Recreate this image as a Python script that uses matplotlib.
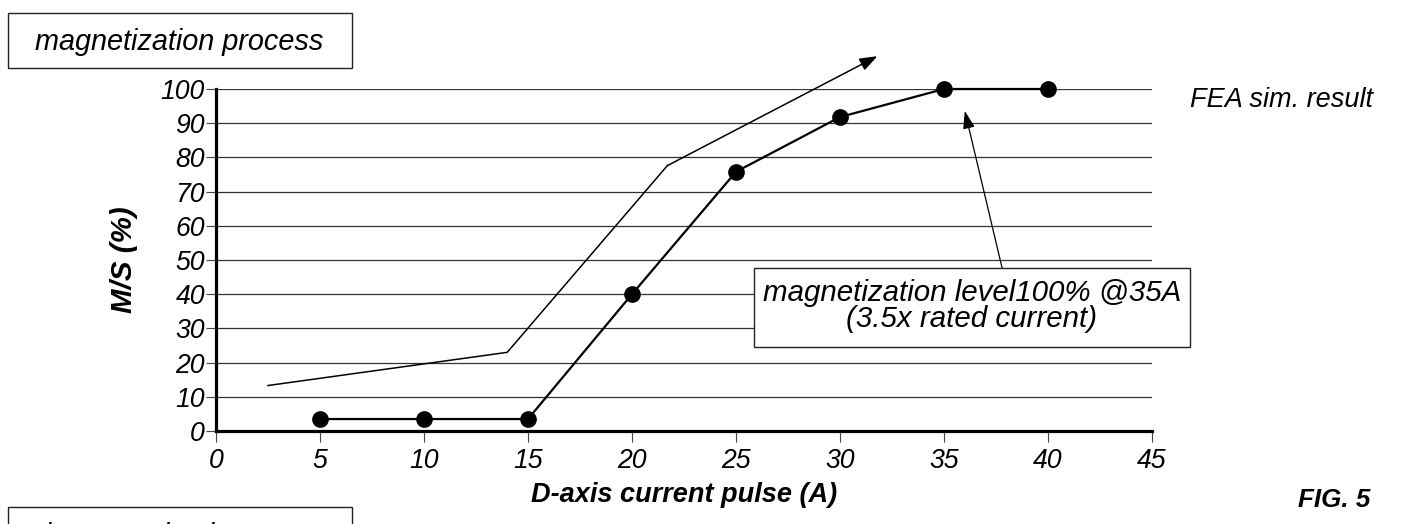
import matplotlib
matplotlib.use('Agg')
import matplotlib.pyplot as plt
from matplotlib import font_manager
from matplotlib.patches import Rectangle


def pick_font(names):
    for name in names:
        try:
            font_manager.findfont(name, fallback_to_default=False)
            return name
        except ValueError:
            pass
    return 'DejaVu Sans'


FONT = pick_font(['Liberation Sans Narrow', 'Liberation Sans'])
NARROW = FONT == 'Liberation Sans Narrow'
plt.rcParams['font.family'] = [FONT, 'DejaVu Sans']


def fs(size):
    # the regular-width face needs a smaller size to fill the same width
    return size if NARROW else size * 0.85


# measured magnetization vs. d-axis pulse current
current = [5, 10, 15, 20, 25, 30, 35, 40]
ms_pct = [3.5, 3.5, 3.5, 40, 75.8, 91.8, 100, 100]

# FEA simulation trend (last point is the arrow tip)
fea_x = [2.5, 14.0, 21.7, 31.8]
fea_y = [13.3, 23.0, 77.6, 109.6]

x_ticks = list(range(0, 46, 5))
y_ticks = list(range(0, 101, 10))

W, H = 1406, 524
fig = plt.figure(figsize=(W / 100, H / 100), dpi=100)


def fx(px):
    return px / W


def fy(py):
    return 1 - py / H


ax = fig.add_axes([fx(216), fy(431), fx(1152) - fx(216), fy(89) - fy(431)])
ax.set_xlim(0, 45)
ax.set_ylim(0, 100)
ax.set_xticks(x_ticks)
ax.set_yticks(y_ticks)
ax.set_xticklabels([str(v) for v in x_ticks], fontsize=fs(22.5), style='italic')
ax.set_yticklabels([str(v) for v in y_ticks], fontsize=fs(22.5), style='italic')
ax.tick_params(axis='x', direction='out', length=8, width=0.8, color='#444444', pad=4)
ax.tick_params(axis='y', direction='out', length=7, width=0.8, color='#444444', pad=1)
for side in ('top', 'right'):
    ax.spines[side].set_visible(False)
for side in ('left', 'bottom'):
    ax.spines[side].set_linewidth(2.3)
ax.yaxis.grid(True, color='#333333', lw=0.9)
ax.set_axisbelow(True)

# measured curve
ax.plot(current, ms_pct, color='black', lw=1.6, marker='o', ms=11,
        zorder=4, clip_on=False)

# FEA trend line with arrow at the end
ax.plot(fea_x[:-1], fea_y[:-1], color='black', lw=1.1, zorder=3)
ax.annotate('', xy=(fea_x[-1], fea_y[-1]), xytext=(fea_x[-2], fea_y[-2]),
            annotation_clip=False,
            arrowprops=dict(arrowstyle='-|>,head_length=0.6,head_width=0.22',
                            mutation_scale=18, color='black', lw=1.1,
                            shrinkA=0, shrinkB=0))

ax.set_xlabel('D-axis current pulse (A)', fontsize=fs(23), fontweight='bold',
              style='italic', labelpad=6)
ax.set_ylabel('M/S (%)', fontsize=fs(25), fontweight='bold', style='italic',
              labelpad=16)

# callout box
box = Rectangle((fx(754), fy(347)), fx(1190) - fx(754), fy(268) - fy(347),
                transform=fig.transFigure, fc='white', ec='#222222', lw=1.0,
                zorder=5)
fig.add_artist(box)
fig.text(fx(972), fy(306), 'magnetization level100% @35A\n(3.5x rated current)',
         ha='center', va='center', fontsize=fs(25), style='italic',
         linespacing=0.92, zorder=6)
ax.annotate('', xy=(36.0, 93.6), xytext=(37.8, 47.5), annotation_clip=False,
            arrowprops=dict(arrowstyle='-|>,head_length=0.6,head_width=0.2',
                            mutation_scale=18, color='black', lw=0.9,
                            shrinkA=0, shrinkB=0))

# side labels
fig.text(fx(1190), fy(100), 'FEA sim. result', ha='left', va='center',
         fontsize=fs(23), style='italic')
fig.text(fx(1370), fy(500), 'FIG. 5', ha='right', va='center',
         fontsize=fs(22), style='italic', fontweight='bold')

# process boxes (the second one runs off the bottom of the sheet)
for top, label in [(13, 'magnetization process'), (507, 'demagnetization process')]:
    fig.add_artist(Rectangle((fx(8), fy(top + 55)), fx(352) - fx(8), fy(top) - fy(top + 55),
                             transform=fig.transFigure, fc='white', ec='#222222', lw=1.0))
    fig.text(fx(35), fy(top + 29), label, ha='left', va='center',
             fontsize=fs(24.5), style='italic')

fig.savefig('out.png', dpi=100)
